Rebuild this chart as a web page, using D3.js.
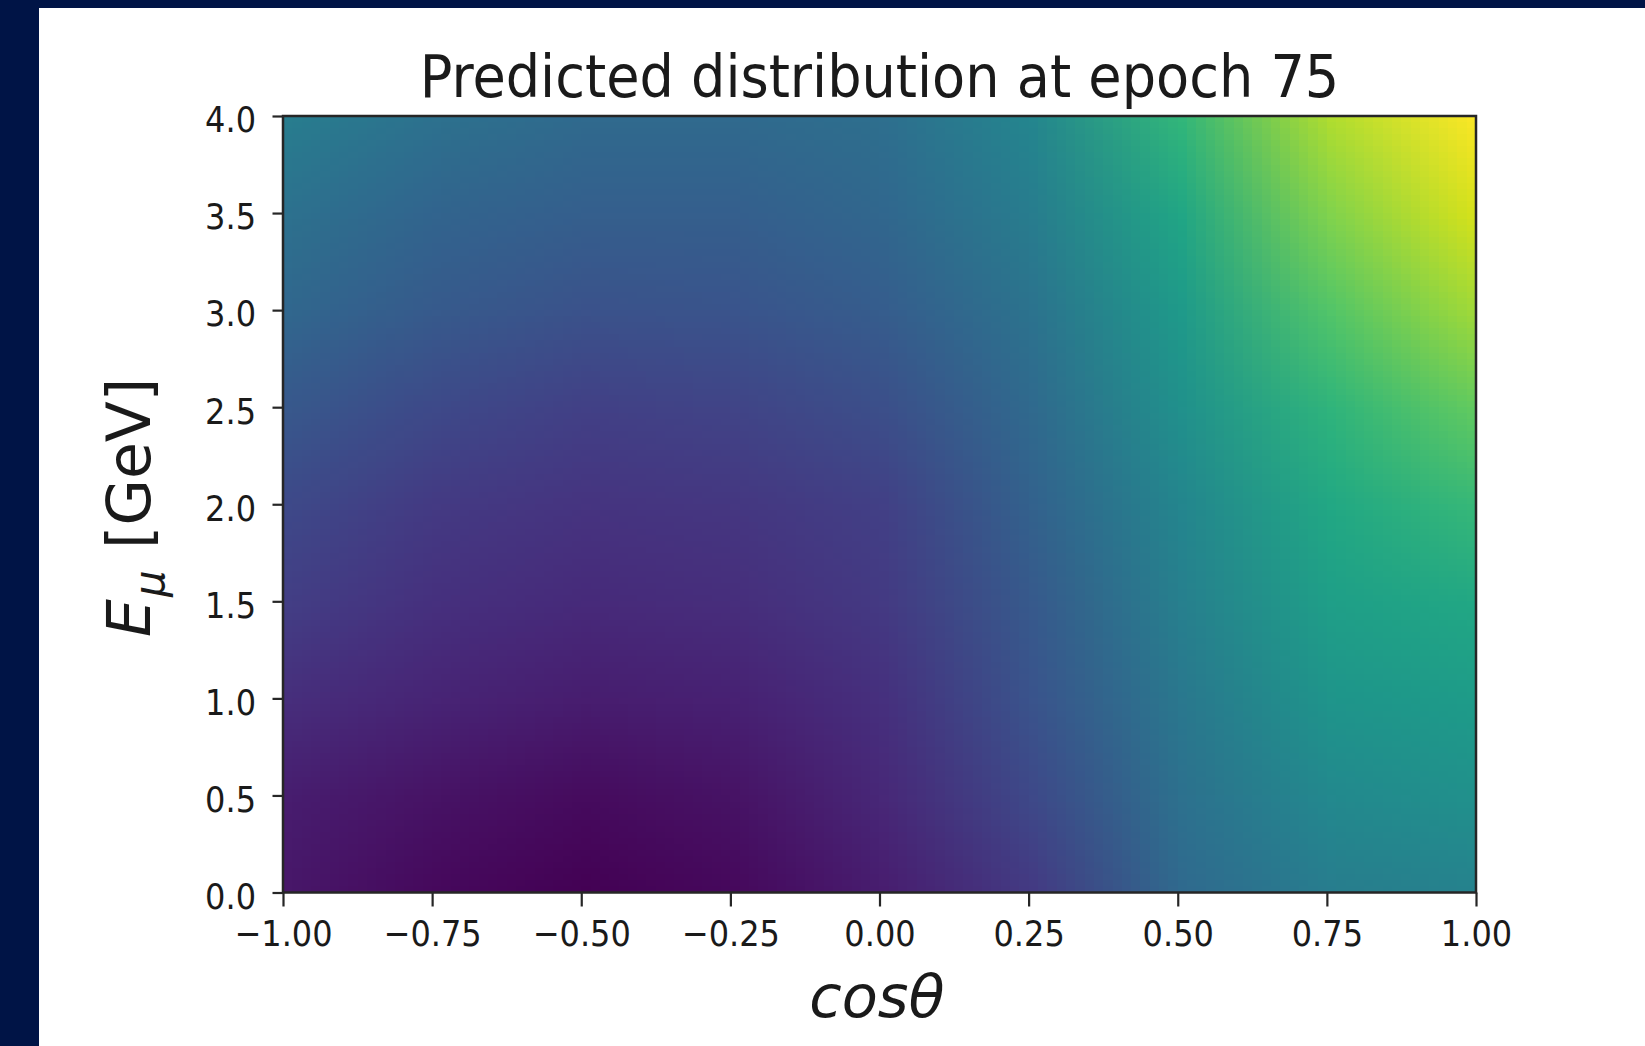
<!DOCTYPE html>
<html>
<head>
<meta charset="utf-8">
<script src="https://cdn.jsdelivr.net/npm/d3@7"></script>
<style>
  html, body { margin: 0; padding: 0; background: #001446; }
  svg { display: block; }
  text { font-family: "DejaVu Sans", sans-serif; fill: #1a1a1a; }
</style>
</head>
<body>
<svg id="chart" width="1645" height="1046"></svg>
<script>
// grid nodes (cos theta across, energy up)
const cosTheta = [-1, -0.75, -0.5, -0.25, 0, 0.25, 0.5, 0.75, 1];
const energy = [4.0, 3.5, 3.0, 2.5, 2.0, 1.5, 1.0, 0.5, 0.0];

// normalised density (0 = darkest, 1 = brightest), one row per energy value
const density = [
  [0.42, 0.37, 0.34, 0.34, 0.36, 0.46, 0.66, 0.88, 1.00],
  [0.37, 0.32, 0.30, 0.30, 0.33, 0.42, 0.59, 0.81, 0.94],
  [0.33, 0.28, 0.25, 0.26, 0.29, 0.38, 0.54, 0.73, 0.86],
  [0.27, 0.22, 0.19, 0.20, 0.24, 0.34, 0.50, 0.65, 0.76],
  [0.22, 0.17, 0.15, 0.16, 0.19, 0.31, 0.46, 0.60, 0.67],
  [0.18, 0.14, 0.12, 0.13, 0.17, 0.28, 0.43, 0.56, 0.60],
  [0.13, 0.10, 0.08, 0.09, 0.14, 0.26, 0.40, 0.52, 0.55],
  [0.08, 0.05, 0.03, 0.05, 0.11, 0.22, 0.37, 0.47, 0.50],
  [0.06, 0.02, 0.00, 0.02, 0.08, 0.17, 0.34, 0.42, 0.44]
];

const xTicks = [-1, -0.75, -0.5, -0.25, 0, 0.25, 0.5, 0.75, 1];
const yTicks = [0, 0.5, 1, 1.5, 2, 2.5, 3, 3.5, 4];

const title = 'Predicted distribution at epoch 75';

// paint one pixel per grid node, the browser smooths it when it is scaled up
function densityImage(color) {
  let canvas = document.createElement('canvas');
  canvas.width = cosTheta.length;
  canvas.height = energy.length;
  let ctx = canvas.getContext('2d');
  density.forEach((row, j) => {
    row.forEach((v, i) => {
      ctx.fillStyle = color(v);
      ctx.fillRect(i, j, 1, 1);
    });
  });
  return canvas.toDataURL();
}

function draw() {
  const svg = d3.select('#chart');
  const left = 283, right = 1476, top = 116, bottom = 892.5;
  const squeeze = 0.89;  // tick labels and title are a bit narrow in the source

  const x = d3.scaleLinear().domain([-1, 1]).range([left, right]);
  const y = d3.scaleLinear().domain([0, 4]).range([bottom, top]);
  const color = d3.scaleSequential(d3.interpolateViridis).domain([0, 1]);

  // white figure panel
  svg.append('rect')
    .attr('x', 39).attr('y', 8)
    .attr('width', 1645 - 39).attr('height', 1046 - 8)
    .attr('fill', '#fff');

  svg.append('defs')
    .append('clipPath').attr('id', 'plot-clip')
    .append('rect')
      .attr('x', left).attr('y', top)
      .attr('width', right - left).attr('height', bottom - top);

  // each node sits at the centre of its pixel
  const dc = (cosTheta[1] - cosTheta[0]) / 2;
  const de = (energy[0] - energy[1]) / 2;
  svg.append('g')
      .attr('clip-path', 'url(#plot-clip)')
    .append('image')
      .attr('href', densityImage(color))
      .attr('x', x(cosTheta[0] - dc))
      .attr('y', y(energy[0] + de))
      .attr('width', x(cosTheta[cosTheta.length - 1] + dc) - x(cosTheta[0] - dc))
      .attr('height', y(energy[energy.length - 1] - de) - y(energy[0] + de))
      .attr('preserveAspectRatio', 'none')
      .style('image-rendering', 'auto');

  // frame
  svg.append('rect')
    .attr('x', left).attr('y', top)
    .attr('width', right - left).attr('height', bottom - top)
    .attr('fill', 'none')
    .attr('stroke', '#262626')
    .attr('stroke-width', 2.5);

  // x axis
  let gx = svg.append('g')
    .attr('transform', `translate(0,${bottom})`)
    .call(d3.axisBottom(x)
      .tickValues(xTicks)
      .tickFormat(d3.format('.2f'))
      .tickSize(14)
      .tickPadding(13.5));
  gx.select('.domain').remove();
  gx.selectAll('.tick line').attr('stroke', '#262626').attr('stroke-width', 2.2);
  gx.selectAll('.tick text')
    .attr('font-size', 36)
    .attr('transform', `scale(${squeeze},1)`);

  // y axis
  let gy = svg.append('g')
    .attr('transform', `translate(${left},0)`)
    .call(d3.axisLeft(y)
      .tickValues(yTicks)
      .tickFormat(d3.format('.1f'))
      .tickSize(10.5));
  gy.select('.domain').remove();
  gy.selectAll('.tick line').attr('stroke', '#262626').attr('stroke-width', 2.2);
  gy.selectAll('.tick text')
    .attr('font-size', 36)
    .attr('x', -27 / squeeze)
    .attr('dy', '0.44em')
    .attr('transform', `scale(${squeeze},1)`);

  // title
  svg.append('text')
    .attr('transform', `translate(${(left + right) / 2},96.5) scale(0.91,1)`)
    .attr('text-anchor', 'middle')
    .attr('font-size', 59.5)
    .text(title);

  // x label
  svg.append('text')
    .attr('transform', 'translate(877,1017)')
    .attr('text-anchor', 'middle')
    .attr('font-size', 59)
    .attr('font-style', 'italic')
    .text('cosθ');

  // y label: E_mu [GeV]
  let yl = svg.append('text')
    .attr('transform', 'translate(150,637) rotate(-90)')
    .attr('font-size', 60);
  yl.append('tspan').attr('x', 0).attr('font-style', 'italic').text('E');
  yl.append('tspan').attr('x', 40).attr('dy', 14)
    .attr('font-size', 42).attr('font-style', 'italic').text('μ');
  yl.append('tspan').attr('x', 88).attr('dy', -14).text('[GeV]');
}

draw();
</script>
</body>
</html>
